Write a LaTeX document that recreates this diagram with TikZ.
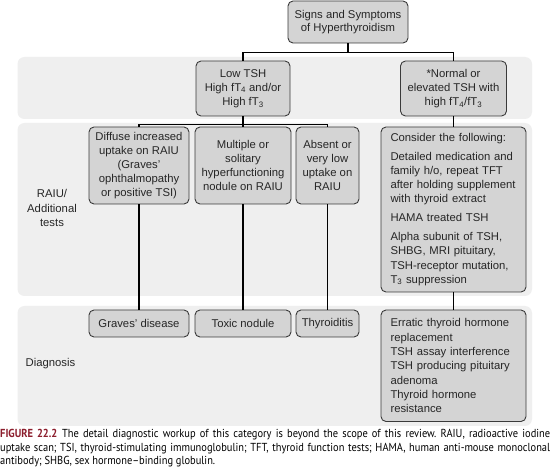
\documentclass[tikz,border=0pt]{standalone}
\usepackage{fontspec}
\setmainfont{Liberation Sans}
\newfontfamily\capfont[FakeStretch=0.9,Ligatures=TeX]{PT Sans}
\definecolor{bandfill}{HTML}{EFEFEF}
\definecolor{boxfill}{HTML}{D4D4D4}
\definecolor{boxline}{HTML}{3A3A3A}
\definecolor{txt}{HTML}{262626}
\definecolor{figred}{RGB}{140,30,45}
\begin{document}
\begin{tikzpicture}[x=1pt,y=-1pt,
  band/.style={fill=bandfill, draw=none, rounded corners=7pt},
  box/.style={draw=boxline, fill=boxfill, line width=0.9pt, rounded corners=5pt,
    inner sep=0pt, text=txt, font=\fontsize{11.3}{14}\selectfont, align=center},
  conn/.style={draw=black, line width=1.2pt},
  lbl/.style={text=txt, font=\fontsize{11.3}{14.5}\selectfont, align=center, inner sep=0pt}]
\useasboundingbox (0,0) rectangle (550,476);
\fill[white] (0,0) rectangle (550,476);
% bands
\path[band] (17.5,57) rectangle (532,119);
\path[band] (17.5,123) rectangle (532,296);
\path[band] (17.5,306) rectangle (532,426);
% level 0
\node[box, minimum width=120pt, minimum height=42pt, font=\fontsize{11.3}{13.4}\selectfont] (top) at (348,22)
  {Signs and Symptoms\\of Hyperthyroidism};
% level 1
\node[box, minimum width=94pt, minimum height=55pt] (low) at (243,88.5)
  {Low TSH\\High fT\textsubscript{4} and/or\\High fT\textsubscript{3}};
\node[box, minimum width=106pt, minimum height=55pt] (normal) at (453.5,88.5)
  {*Normal or\\elevated TSH with\\high fT\textsubscript{4}/fT\textsubscript{3}};
% level 2
\node[box, minimum width=100pt, minimum height=77pt] (diffuse) at (139,165.5)
  {Diffuse increased\\uptake on RAIU\\(Graves'\\ophthalmopathy\\or positive TSI)};
\node[box, minimum width=96pt, minimum height=77pt] (multiple) at (243,165.5)
  {Multiple or\\solitary\\hyperfunctioning\\nodule on RAIU};
\node[box, minimum width=63pt, minimum height=77pt] (absent) at (327.5,165.5)
  {Absent or\\very low\\uptake on\\RAIU};
\node[box, minimum width=145pt, minimum height=165pt, align=left, text width=126pt,
  inner xsep=9.5pt, font=\fontsize{11.3}{14.1}\selectfont] (consider) at (453.5,209.5)
  {Consider the following:\\[4.5pt]
   Detailed medication and\\family h/o, repeat TFT\\after holding supplement\\with thyroid extract\\[5pt]
   HAMA treated TSH\\[5pt]
   Alpha subunit of TSH,\\SHBG, MRI pituitary,\\TSH-receptor mutation,\\T\textsubscript{3} suppression};
% level 3
\node[box, minimum width=100pt, minimum height=27pt] (graves) at (139,323.5) {Graves' disease};
\node[box, minimum width=96pt, minimum height=27pt] (toxic) at (243,323.5) {Toxic nodule};
\node[box, minimum width=63pt, minimum height=27pt] (thyr) at (327.5,323.5) {Thyroiditis};
\node[box, minimum width=145pt, minimum height=111.5pt, align=left, text width=126pt,
  inner xsep=9.5pt, font=\fontsize{11.3}{14.3}\selectfont] (erratic) at (453.5,365.75)
  {Erratic thyroid hormone\\replacement\\TSH assay interference\\TSH producing pituitary\\adenoma\\Thyroid hormone\\resistance\\[-3pt]};
% band labels
\node[lbl] (raiu) at (52,208) {RAIU/\\Additional\\tests};
\node[lbl, anchor=west] (diag) at (25.5,364) {Diagnosis};
% connectors
\draw[conn] (top.south) -- ++(0,9) -| (low.north);
\draw[conn] (top.south) -- ++(0,9) -| (normal.north);
\draw[conn] (low.south) -- ++(0,8) -| (diffuse.north);
\draw[conn] (low.south) -- (multiple.north);
\draw[conn] (low.south) -- ++(0,8) -| (absent.north);
\draw[conn] (normal.south) -- (consider.north);
\draw[conn] (diffuse.south) -- (graves.north);
\draw[conn] (multiple.south) -- (toxic.north);
\draw[conn] (absent.south) -- (thyr.north);
\draw[conn] (consider.south) -- (erratic.north);
% caption
\node[anchor=north west, inner sep=0pt, text width=550pt, align=justify,
  font=\capfont\fontsize{11.6}{13.6}\selectfont, text=black] (cap) at (0,429)
  {\frenchspacing\hyphenpenalty=10000\exhyphenpenalty=10000{\color{figred}\bfseries FIGURE 22.2}\hspace{0.4em}The detail diagnostic workup of this category is beyond the scope of this review. RAIU, radioactive iodine\linebreak
   uptake scan; TSI, thyroid-stimulating immunoglobulin; TFT, thyroid function tests; HAMA, human anti-mouse monoclonal\linebreak
   antibody; SHBG, sex hormone–binding globulin.};
\end{tikzpicture}
\end{document}
